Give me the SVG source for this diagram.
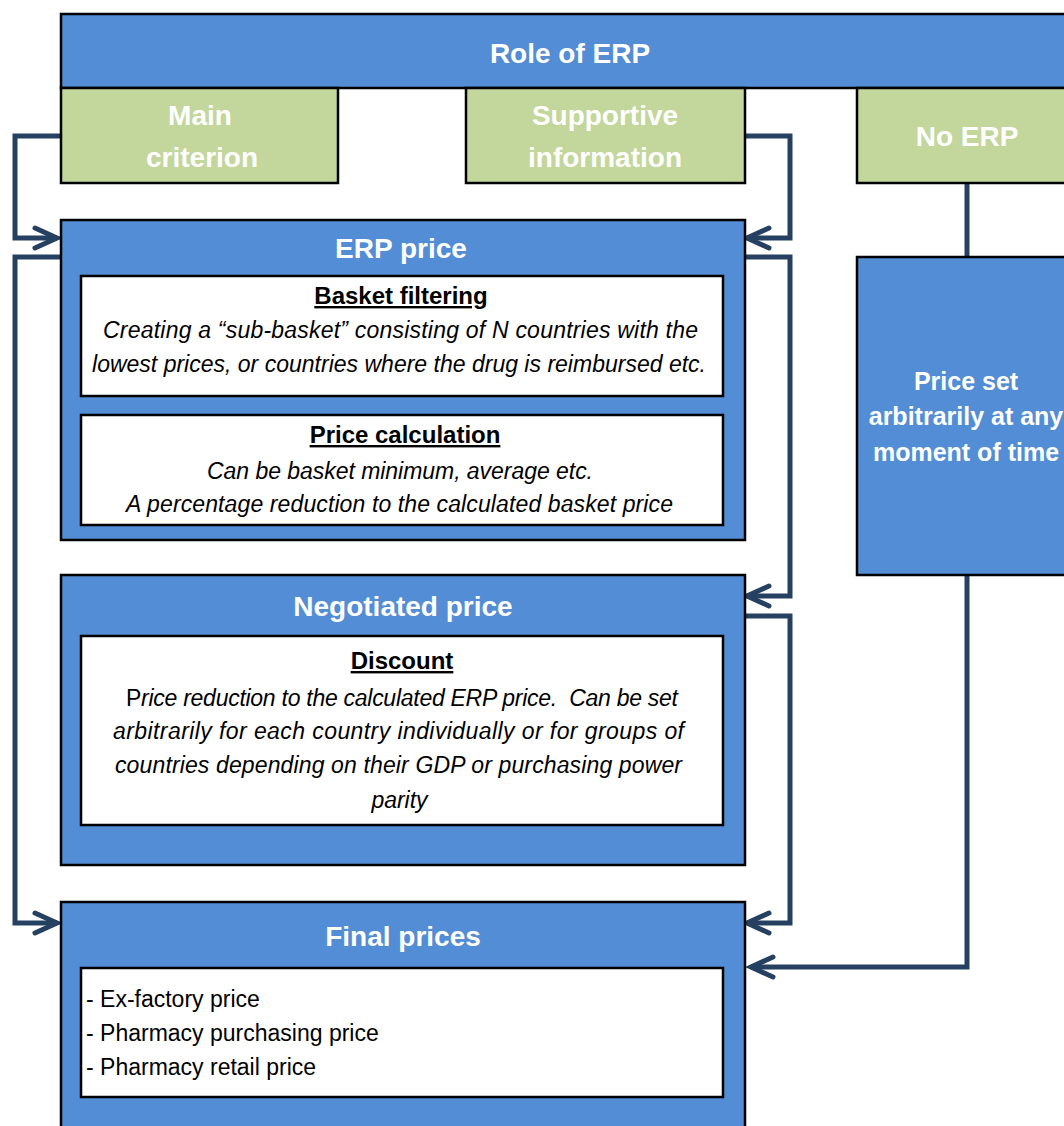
<svg xmlns="http://www.w3.org/2000/svg" width="1064" height="1126" viewBox="0 0 1064 1126">
<style>
.blue{fill:#538DD5;stroke:#000;stroke-width:2.5}
.green{fill:#C3D69B;stroke:#000;stroke-width:2.5}
.white{fill:#fff;stroke:#000;stroke-width:2.5}
.t{font-family:"Liberation Sans",Arial,sans-serif;font-weight:bold;fill:#fff;font-size:28px;text-anchor:middle}
.ts{font-family:"Liberation Sans",Arial,sans-serif;font-weight:bold;fill:#fff;font-size:25px;text-anchor:middle}
.h{font-family:"Liberation Sans",Arial,sans-serif;font-weight:bold;fill:#000;font-size:24px;text-anchor:middle;text-decoration:underline}
.i{font-family:"Liberation Sans",Arial,sans-serif;font-style:italic;fill:#000;font-size:23px;text-anchor:middle}
.l{font-family:"Liberation Sans",Arial,sans-serif;fill:#000;font-size:23px}
.c{fill:none;stroke:#254061;stroke-width:5;stroke-linejoin:miter}
</style>
<defs>
<marker id="arr" markerUnits="userSpaceOnUse" markerWidth="44" markerHeight="40" viewBox="-34 -20 44 40" refX="0" refY="0" orient="auto" overflow="visible">
<path d="M-22,-10 L0,0 L-22,10" fill="none" stroke="#254061" stroke-width="5" stroke-linecap="round" stroke-linejoin="miter"/>
</marker>
</defs>
<rect width="1064" height="1126" fill="#fff"/>

<g id="connectors">
<path class="c" d="M61,136 H15 V238 H57" marker-end="url(#arr)"/>
<path class="c" d="M61,257 H15 V923 H57" marker-end="url(#arr)"/>
<path class="c" d="M745,136 H790 V238 H747" marker-end="url(#arr)"/>
<path class="c" d="M745,257 H790 V596 H747" marker-end="url(#arr)"/>
<path class="c" d="M745,616 H790 V923 H747" marker-end="url(#arr)"/>
<path class="c" d="M967,183 V257"/>
<path class="c" d="M967,575 V967 H751" marker-end="url(#arr)"/>
</g>

<g id="role">
<rect class="blue" x="61" y="14" width="1010" height="74"/>
<text class="t" x="570" y="63" font-size="26">Role of ERP</text>
</g>

<g id="main">
<rect class="green" x="61" y="88" width="277" height="95"/>
<text class="t" x="200" y="125">Main</text>
<text class="t" x="202" y="167">criterion</text>
</g>

<g id="supportive">
<rect class="green" x="466" y="88" width="279" height="95"/>
<text class="t" x="605" y="125">Supportive</text>
<text class="t" x="605" y="167">information</text>
</g>

<g id="noerp">
<rect class="green" x="857" y="88" width="215" height="95"/>
<text class="t" x="967" y="146">No ERP</text>
</g>

<g id="priceset">
<rect class="blue" x="857" y="257" width="215" height="318"/>
<text class="ts" x="966" y="390">Price set</text>
<text class="ts" x="966" y="425">arbitrarily at any</text>
<text class="ts" x="966" y="461">moment of time</text>
</g>

<g id="erp">
<rect class="blue" x="61" y="220" width="684" height="320"/>
<text class="t" x="401" y="258">ERP price</text>
<rect class="white" x="81" y="276" width="642" height="120"/>
<text class="h" x="401" y="304">Basket filtering</text>
<text class="i" x="400.5" y="338" textLength="595">Creating a “sub-basket” consisting of N countries with the</text>
<text class="i" x="399" y="372" textLength="614">lowest prices, or countries where the drug is reimbursed etc.</text>
<rect class="white" x="81" y="415" width="642" height="110"/>
<text class="h" x="405" y="443">Price calculation</text>
<text class="i" x="400" y="479" textLength="386">Can be basket minimum, average etc.</text>
<text class="i" x="399.5" y="512" textLength="547">A percentage reduction to the calculated basket price</text>
</g>

<g id="negotiated">
<rect class="blue" x="61" y="575" width="684" height="290"/>
<text class="t" x="403" y="616" font-size="29">Negotiated price</text>
<rect class="white" x="81" y="636" width="642" height="189"/>
<text class="h" x="402" y="669">Discount</text>
<text class="i" x="402" y="706" textLength="552" xml:space="preserve"><tspan font-style="normal">P</tspan>rice reduction to the calculated ERP price.  Can be set</text>
<text class="i" x="398.5" y="739" textLength="571">arbitrarily for each country individually or for groups of</text>
<text class="i" x="398.5" y="773" textLength="567">countries depending on their GDP or purchasing power</text>
<text class="i" x="399.5" y="808">parity</text>
</g>

<g id="final">
<rect class="blue" x="61" y="902" width="684" height="240"/>
<text class="t" x="403" y="946">Final prices</text>
<rect class="white" x="81" y="968" width="642" height="129"/>
<text class="l" x="86" y="1007">- Ex-factory price</text>
<text class="l" x="86" y="1041">- Pharmacy purchasing price</text>
<text class="l" x="86" y="1075">- Pharmacy retail price</text>
</g>
</svg>
